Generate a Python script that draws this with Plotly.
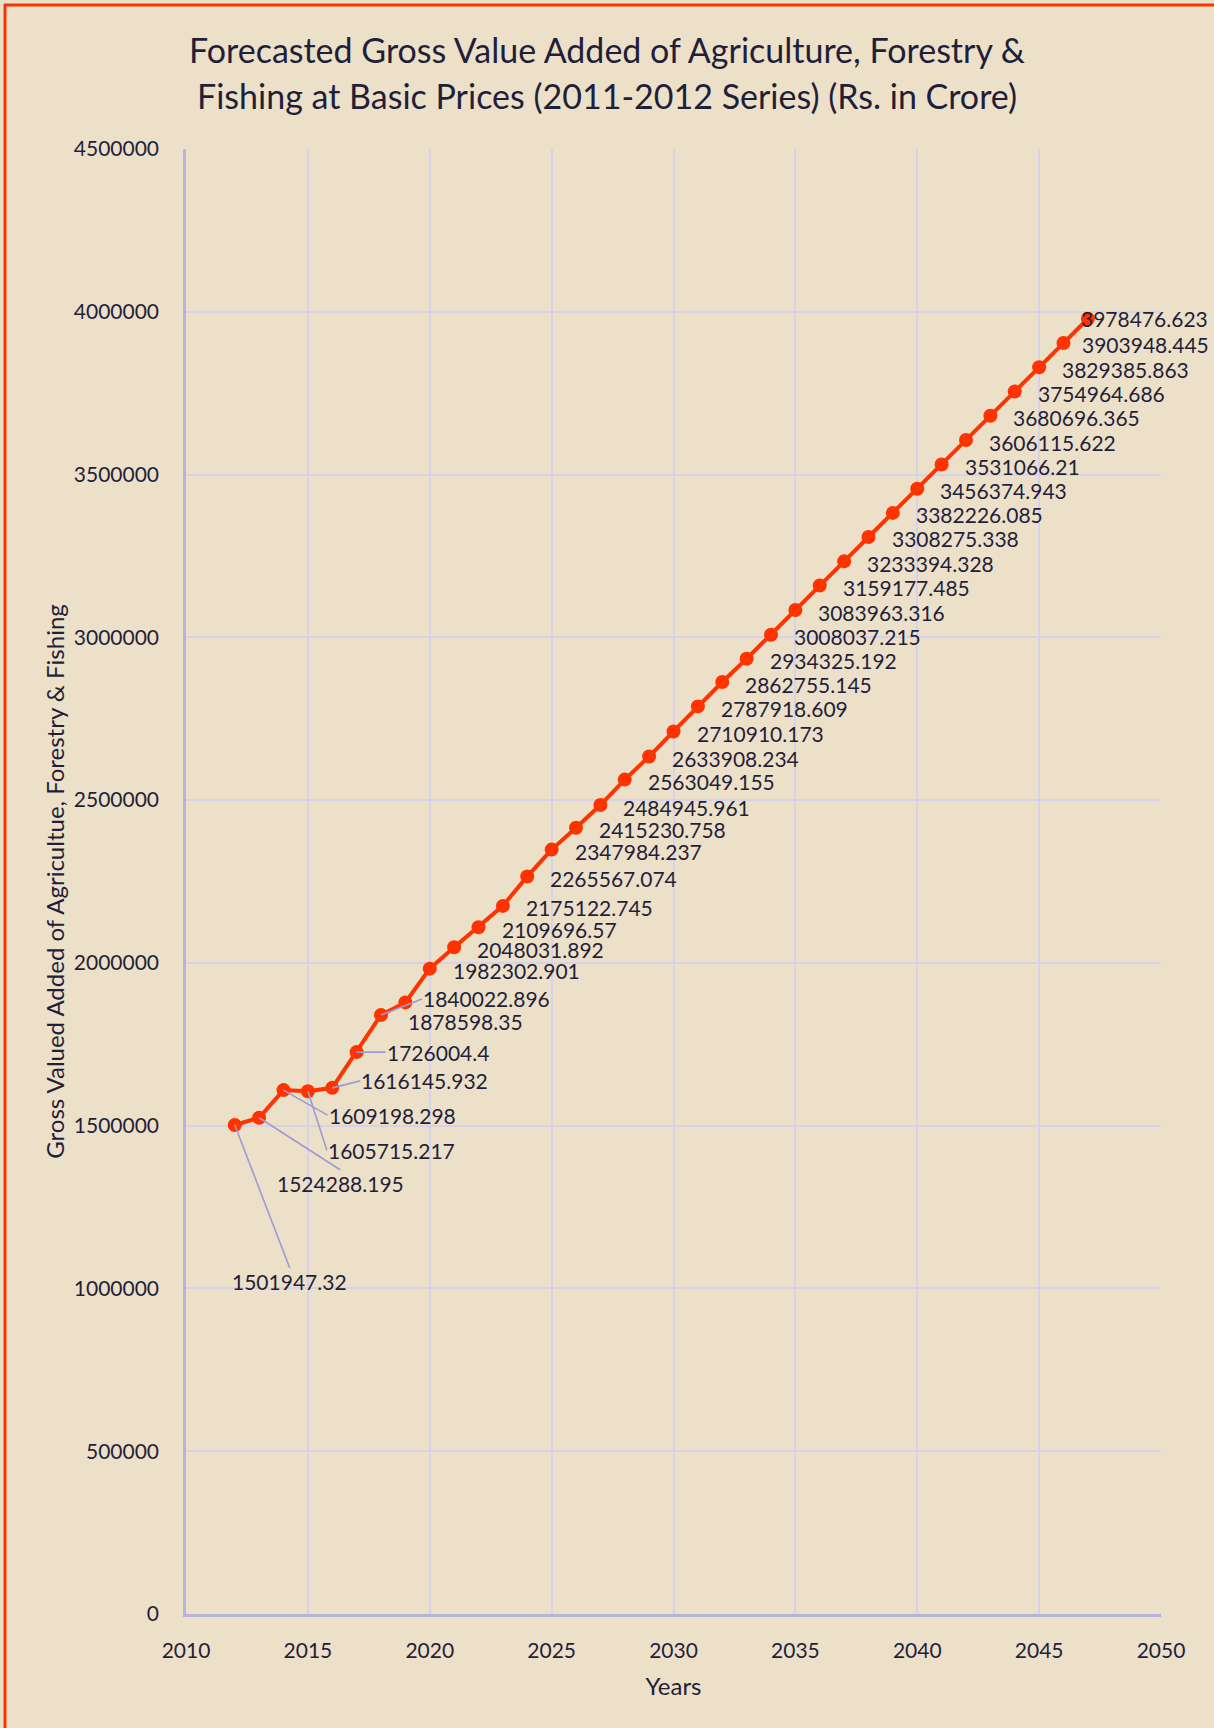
import plotly.graph_objects as go

# ---------------- data ----------------
years = list(range(2012, 2048))
gva = [
    1501947.32, 1524288.195, 1609198.298, 1605715.217, 1616145.932,
    1726004.4, 1840022.896, 1878598.35, 1982302.901, 2048031.892,
    2109696.57, 2175122.745, 2265567.074, 2347984.237, 2415230.758,
    2484945.961, 2563049.155, 2633908.234, 2710910.173, 2787918.609,
    2862755.145, 2934325.192, 3008037.215, 3083963.316, 3159177.485,
    3233394.328, 3308275.338, 3382226.085, 3456374.943, 3531066.21,
    3606115.622, 3680696.365, 3754964.686, 3829385.863, 3903948.445,
    3978476.623,
]
labels = [str(v) for v in gva]

x_ticks = list(range(2010, 2051, 5))
y_ticks = list(range(0, 4500001, 500000))

title_lines = [
    "Forecasted Gross Value Added of Agriculture, Forestry &",
    "Fishing at Basic Prices (2011-2012 Series) (Rs. in Crore)",
]
x_title = "Years"
y_title = "Gross Valued Added of Agricultue, Forestry & Fishing"

# ---------------- layout / style ----------------
W, H = 1214, 1728
ML, MR, MT, MB = 186, 53, 149, 114
PW, PH = W - ML - MR, H - MT - MB

BG = "#EDE0C9"
LINE = "#FF3300"
GRID = "#D5D2E9"
AXIS = "#B7B3DF"
LEADER = "#9D9BD3"
TXT = "#1F1F3A"
FONT = "Lato"
FS = 21
FS_AX = 24
FS_TITLE = 34

# label offsets in pixels (dx to text left edge, dy down) for plain labels
std_off = (23, 2)
plain_off = {2019: (3, 19), 2046: (18, 1), 2047: (-7, 0)}
# leader-line labels: (ax, ay, xanchor, yanchor)
leader_off = {
    2012: (55, 143, "center", "top"),
    2013: (81, 52, "center", "top"),
    2014: (44, 25, "left", "middle"),
    2015: (19, 59, "left", "middle"),
    2016: (28, -7, "left", "middle"),
    2017: (29, 0, "left", "middle"),
    2018: (41, -16, "left", "middle"),
}

fig = go.Figure()
fig.add_trace(go.Scatter(
    x=years, y=gva, mode="lines+markers",
    line=dict(color=LINE, width=4),
    marker=dict(color=LINE, size=14),
    hoverinfo="skip", showlegend=False,
))

annotations = []
for yr, v, lab in zip(years, gva, labels):
    if yr in leader_off:
        ax, ay, xa, ya = leader_off[yr]
        annotations.append(dict(
            x=yr, y=v, xref="x", yref="y", text=lab,
            showarrow=True, arrowhead=0, arrowwidth=1.6, arrowcolor=LEADER,
            ax=ax, ay=ay, xanchor=xa, yanchor=ya, standoff=0,
            font=dict(family=FONT, size=FS, color=TXT), borderpad=0,
        ))
    else:
        dx, dy = plain_off.get(yr, std_off)
        annotations.append(dict(
            x=yr, y=v, xref="x", yref="y", text=lab, showarrow=False,
            xanchor="left", yanchor="middle", xshift=dx - 1, yshift=-dy,
            font=dict(family=FONT, size=FS, color=TXT), borderpad=0,
        ))

# title lines (centered on page)
for t, cy in zip(title_lines, [49, 95]):
    annotations.append(dict(
        x=(W / 2 - ML) / PW, y=(H - MB - cy) / PH, xref="paper", yref="paper",
        text=t, showarrow=False, xanchor="center", yanchor="middle",
        font=dict(family=FONT, size=FS_TITLE, color=TXT),
    ))

def px_x(p):
    return (p - ML) / PW

def px_y(p):
    return (H - MB - p) / PH

shapes = [
    dict(type="line", xref="paper", yref="paper",
         x0=px_x(5), x1=px_x(5), y0=px_y(4), y1=px_y(H + 5),
         line=dict(color=LINE, width=3)),
    dict(type="line", xref="paper", yref="paper",
         x0=px_x(4), x1=px_x(W + 5), y0=px_y(5), y1=px_y(5),
         line=dict(color=LINE, width=3)),
]

fig.update_layout(
    width=W, height=H,
    margin=dict(l=ML, r=MR, t=MT, b=MB, pad=0),
    paper_bgcolor=BG, plot_bgcolor=BG,
    font=dict(family=FONT, size=FS, color=TXT),
    annotations=annotations, shapes=shapes,
    showlegend=False,
)
fig.update_xaxes(
    range=[2010, 2050], tickvals=x_ticks, ticktext=[str(t) for t in x_ticks],
    showgrid=True, gridcolor=GRID, gridwidth=1.5,
    showline=True, linecolor=AXIS, linewidth=2.5, zeroline=False,
    ticks="", ticklabelstandoff=16, tickfont=dict(family=FONT, size=FS, color=TXT),
    title=dict(text=x_title, standoff=18, font=dict(family=FONT, size=FS_AX, color=TXT)),
    mirror=False,
)
fig.update_yaxes(
    range=[0, 4500000], tickvals=y_ticks, ticktext=[str(t) for t in y_ticks],
    showgrid=True, gridcolor=GRID, gridwidth=1.5,
    showline=True, linecolor=AXIS, linewidth=2.5, zeroline=False,
    ticks="", ticklabelstandoff=20, tickfont=dict(family=FONT, size=FS, color=TXT),
    title=dict(text=y_title, standoff=3, font=dict(family=FONT, size=FS_AX, color=TXT)),
)

fig.write_html("out.html")
